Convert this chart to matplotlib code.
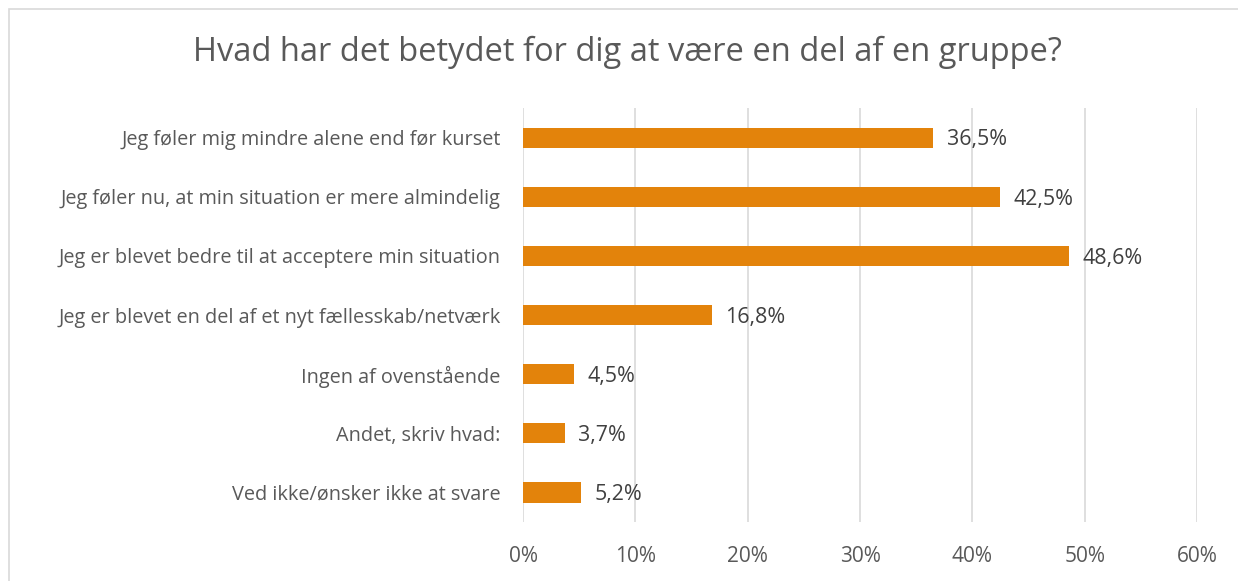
import matplotlib.pyplot as plt
from matplotlib.patches import Rectangle

# Survey answers, top to bottom as drawn
categories = [
    'Jeg føler mig mindre alene end før kurset',
    'Jeg føler nu, at min situation er mere almindelig',
    'Jeg er blevet bedre til at acceptere min situation',
    'Jeg er blevet en del af et nyt fællesskab/netværk',
    'Ingen af ovenstående',
    'Andet, skriv hvad:',
    'Ved ikke/ønsker ikke at svare',
]
shares = [36.5, 42.5, 48.6, 16.8, 4.5, 3.7, 5.2]
x_ticks = [0, 10, 20, 30, 40, 50, 60]

title = 'Hvad har det betydet for dig at være en del af en gruppe?'
bar_color = '#E3830B'
text_color = '#595959'
value_color = '#404040'
grid_color = '#D9D9D9'

plt.rcParams['font.family'] = ['Open Sans', 'DejaVu Sans']

fig = plt.figure(figsize=(12.38, 5.81), dpi=100)
ax = fig.add_axes([0.4225, 0.1015, 0.5444, 0.7126])

pos = list(range(len(categories)))
ax.barh(pos, shares, height=0.34, color=bar_color, zorder=3)
ax.set_ylim(len(categories) - 0.5, -0.5)
ax.set_xlim(0, 60)

# value labels just right of each bar
for y, v in zip(pos, shares):
    ax.text(v + 1.2, y + 0.04, f'{v:.1f}%'.replace('.', ','), va='center', ha='left',
            fontsize=15.4, color=value_color)

ax.set_yticks(pos)
ax.set_yticklabels(categories, fontsize=14.3, color=text_color)
ax.set_xticks(x_ticks)
ax.set_xticklabels([f'{t}%' for t in x_ticks], fontsize=15, color=text_color)
ax.tick_params(axis='y', length=0, pad=16)
ax.tick_params(axis='x', length=0, pad=17)

ax.grid(axis='x', color=grid_color, linewidth=1.2, zorder=0)
for s in ax.spines.values():
    s.set_visible(False)

fig.text(0.507, 1 - 52 / 581, title, ha='center', va='center', fontsize=23.5, color=text_color)

# light chart frame
fig.patches.append(Rectangle((9 / 1238, -0.1), 1.2, 1.1 - 9 / 581,
                             transform=fig.transFigure, fill=False,
                             edgecolor=grid_color, linewidth=1.2))

fig.savefig('out.png', dpi=100)
